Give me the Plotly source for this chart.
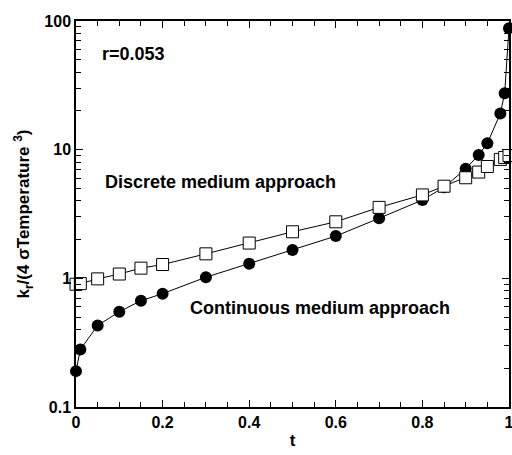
import math
import plotly.graph_objects as go

t_cont = [0, 0.01, 0.05, 0.1, 0.15, 0.2, 0.3, 0.4, 0.5, 0.6, 0.7, 0.8, 0.85, 0.9, 0.93, 0.95, 0.98, 0.99, 1.0]
k_cont = [0.19, 0.28, 0.43, 0.55, 0.67, 0.76, 1.02, 1.30, 1.66, 2.13, 2.93, 4.06, 5.1, 7.1, 9.1, 11.2, 19.1, 27.4, 88]

t_disc = [0, 0.01, 0.05, 0.1, 0.15, 0.2, 0.3, 0.4, 0.5, 0.6, 0.7, 0.8, 0.85, 0.9, 0.93, 0.95, 0.98, 0.99, 1.0]
k_disc = [0.90, 0.91, 0.99, 1.08, 1.20, 1.28, 1.55, 1.88, 2.30, 2.75, 3.56, 4.45, 5.2, 6.05, 6.7, 7.4, 8.4, 8.7, 9.0]

x_ticks = [0, 0.2, 0.4, 0.6, 0.8, 1]
x_labels = ["0", "0.2", "0.4", "0.6", "0.8", "1"]
y_ticks = [0.1, 1, 10, 100]
y_labels = ["0.1", "1", "10", "100"]

FONT = "Liberation Sans, Arial, sans-serif"

fig = go.Figure()
fig.add_trace(go.Scatter(
    x=t_cont, y=k_cont, mode="lines+markers", cliponaxis=False,
    line=dict(color="black", width=1),
    marker=dict(symbol="circle", size=12, color="black"),
    showlegend=False))
fig.add_trace(go.Scatter(
    x=t_disc, y=k_disc, mode="lines+markers", cliponaxis=False,
    line=dict(color="black", width=1),
    marker=dict(symbol="square", size=12, color="white", line=dict(color="black", width=1)),
    showlegend=False))

ann_font = dict(family=FONT, size=18, color="black")
fig.add_annotation(x=0.055, y=math.log10(55), xref="x", yref="y", text="<b>r=0.053</b>",
                   showarrow=False, xanchor="left", font=ann_font)
fig.add_annotation(x=0.062, y=math.log10(5.6), xref="x", yref="y", text="<b>Discrete medium approach</b>",
                   showarrow=False, xanchor="left", font=ann_font)
fig.add_annotation(x=0.258, y=math.log10(0.59), xref="x", yref="y", text="<b>Continuous medium approach</b>",
                   showarrow=False, xanchor="left", font=ann_font)

fig.update_xaxes(
    range=[0, 1], tickmode="array", tickvals=x_ticks, ticktext=["<b>%s</b>" % s for s in x_labels],
    ticks="inside", ticklen=7, tickwidth=1.2, tickcolor="black",
    showline=True, linecolor="black", linewidth=1.5, mirror="ticks",
    showgrid=False, zeroline=False, ticklabeloverflow="allow",
    tickfont=dict(family=FONT, size=16, color="black"),
    title=dict(text="<b>t</b>", font=dict(family=FONT, size=17, color="black"), standoff=4),
    minor=dict(dtick=0.05, tick0=0, ticks="inside", ticklen=5, tickwidth=1.2, tickcolor="black", showgrid=False))
fig.update_yaxes(
    type="log", range=[-1, 2], tickmode="array", tickvals=y_ticks, ticktext=["<b>%s</b>" % s for s in y_labels],
    ticks="inside", ticklen=7, tickwidth=1.2, tickcolor="black",
    showline=True, linecolor="black", linewidth=1.5, mirror="ticks",
    showgrid=False, zeroline=False, ticklabeloverflow="allow",
    tickfont=dict(family=FONT, size=16, color="black"),
    title=dict(text="<b>k<sub>r</sub>/(4 σTemperature <sup>3</sup>)</b>",
               font=dict(family=FONT, size=17, color="black"), standoff=10),
    minor=dict(tickmode="array", tickvals=[v * m for v in [0.1, 1, 10] for m in range(2, 10)],
               ticks="inside", ticklen=5, tickwidth=1.2, tickcolor="black", showgrid=False))

fig.update_layout(
    width=512, height=455,
    margin=dict(l=76, r=3, t=21, b=48, autoexpand=False),
    paper_bgcolor="white", plot_bgcolor="white",
    font=dict(family=FONT, color="black"),
    template="none",
)

fig.write_html("out.html")
